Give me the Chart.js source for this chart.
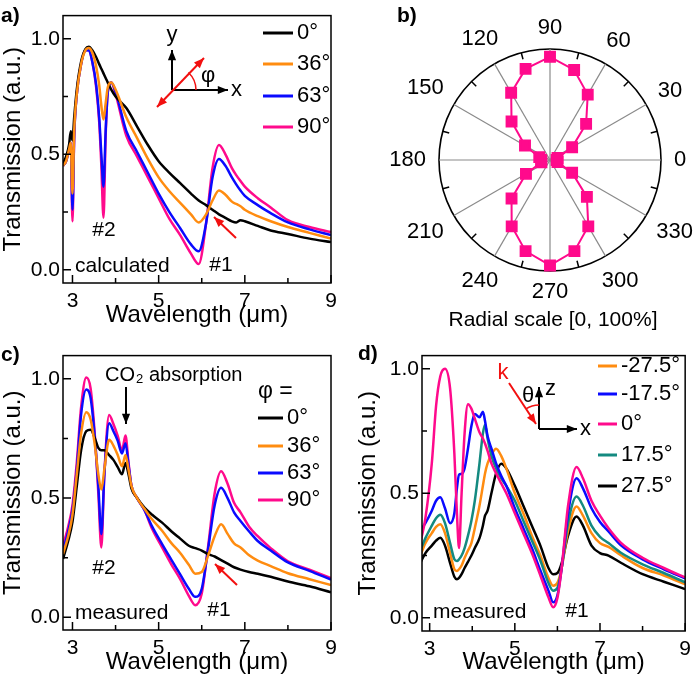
<!DOCTYPE html>
<html>
<head>
<meta charset="utf-8">
<script src="https://cdn.jsdelivr.net/npm/chart.js@4.4.1/dist/chart.umd.min.js"></script>
<style>
  body { margin: 0; background: #fff; }
  #wrap { position: relative; width: 697px; height: 687px; }
  canvas { position: absolute; }
</style>
</head>
<body>
<div id="wrap">
  <canvas id="chartA" width="348" height="340" style="left:0;top:0"></canvas>
  <canvas id="chartB" width="349" height="340" style="left:348px;top:0"></canvas>
  <canvas id="chartC" width="348" height="347" style="left:0;top:340px"></canvas>
  <canvas id="chartD" width="349" height="347" style="left:348px;top:340px"></canvas>
</div>
<script>
// ---- data ----
const xTicks = [3, 4, 5, 6, 7, 8, 9];
const xLabels = [3, 5, 7, 9];
const yTicks = [0, 0.25, 0.5, 0.75, 1.0];
const yLabels = [0, 0.5, 1.0];

// a) calculated
const wlA = [2.78, 2.85, 2.92, 2.96, 3.0, 3.04, 3.1, 3.2, 3.3, 3.38, 3.46, 3.55, 3.62, 3.67, 3.72, 3.77, 3.82, 3.9, 4.0, 4.25,
             4.5, 4.75, 5.0, 5.25, 5.5, 5.75, 5.93, 6.1, 6.25, 6.4, 6.55, 6.7, 6.8, 6.9, 7.0, 7.3, 7.6, 8.0, 8.5, 9.0];
const a0  = [0.46, 0.49, 0.54, 0.60, 0.56, 0.66, 0.78, 0.90, 0.955, 0.965, 0.95, 0.92, 0.89, 0.87, 0.85, 0.83, 0.81, 0.78, 0.75, 0.70,
             0.62, 0.54, 0.47, 0.42, 0.375, 0.33, 0.30, 0.28, 0.26, 0.24, 0.225, 0.21, 0.205, 0.215, 0.21, 0.19, 0.17, 0.155, 0.135, 0.12];
const a36 = [0.45, 0.47, 0.52, 0.55, 0.33, 0.60, 0.76, 0.89, 0.95, 0.96, 0.94, 0.88, 0.80, 0.71, 0.65, 0.72, 0.79, 0.81, 0.78, 0.66,
             0.57, 0.48, 0.40, 0.34, 0.29, 0.24, 0.205, 0.24, 0.30, 0.343, 0.325, 0.295, 0.285, 0.275, 0.26, 0.232, 0.21, 0.185, 0.16, 0.135];
const a63 = [0.45, 0.47, 0.52, 0.55, 0.26, 0.58, 0.76, 0.89, 0.95, 0.95, 0.90, 0.80, 0.66, 0.50, 0.36, 0.60, 0.77, 0.81, 0.77, 0.60,
             0.51, 0.42, 0.33, 0.25, 0.18, 0.11, 0.08, 0.20, 0.40, 0.48, 0.45, 0.40, 0.37, 0.343, 0.32, 0.28, 0.245, 0.205, 0.175, 0.15];
const a90 = [0.45, 0.47, 0.52, 0.55, 0.21, 0.58, 0.76, 0.89, 0.95, 0.95, 0.90, 0.79, 0.64, 0.45, 0.225, 0.58, 0.77, 0.81, 0.76, 0.58,
             0.49, 0.40, 0.31, 0.22, 0.15, 0.07, 0.025, 0.20, 0.44, 0.54, 0.50, 0.44, 0.41, 0.384, 0.36, 0.31, 0.27, 0.215, 0.185, 0.163];

// b) polar, angles clockwise from 90
const polarAngles = [90, 75, 60, 45, 30, 15, 0, 345, 330, 315, 300, 285, 270, 255, 240, 225, 210, 195, 180, 165, 150, 135, 120, 105];
const polarValues = [0.93, 0.84, 0.68, 0.46, 0.23, 0.07, 0.06, 0.07, 0.23, 0.47, 0.69, 0.85, 0.95, 0.85, 0.69, 0.49, 0.25, 0.08, 0.08, 0.10, 0.26, 0.49, 0.70, 0.85];

// c) measured
const wlC = [2.78, 2.9, 3.0, 3.1, 3.2, 3.32, 3.42, 3.52, 3.6, 3.67, 3.74, 3.85, 3.95, 4.05, 4.15, 4.23, 4.3, 4.37, 4.5, 4.67,
             4.85, 5.08, 5.3, 5.5, 5.7, 5.85, 6.0, 6.15, 6.3, 6.45, 6.6, 6.75, 6.9, 7.1, 7.3, 7.6, 8.0, 8.5, 9.0];
const c0  = [0.245, 0.32, 0.40, 0.55, 0.70, 0.78, 0.786, 0.75, 0.71, 0.70, 0.70, 0.68, 0.66, 0.63, 0.60, 0.647, 0.60, 0.54, 0.50, 0.46,
             0.43, 0.397, 0.36, 0.33, 0.30, 0.29, 0.28, 0.265, 0.255, 0.24, 0.225, 0.21, 0.20, 0.19, 0.183, 0.17, 0.15, 0.13, 0.105];
const c36 = [0.265, 0.34, 0.43, 0.60, 0.77, 0.86, 0.83, 0.72, 0.60, 0.536, 0.62, 0.744, 0.72, 0.68, 0.633, 0.68, 0.62, 0.55, 0.50, 0.455,
             0.41, 0.363, 0.31, 0.27, 0.22, 0.183, 0.19, 0.26, 0.34, 0.39, 0.35, 0.31, 0.293, 0.26, 0.238, 0.215, 0.185, 0.16, 0.135];
const c63 = [0.28, 0.36, 0.45, 0.62, 0.85, 0.955, 0.92, 0.75, 0.55, 0.349, 0.60, 0.813, 0.78, 0.74, 0.687, 0.73, 0.64, 0.55, 0.50, 0.45,
             0.38, 0.307, 0.24, 0.18, 0.12, 0.086, 0.12, 0.29, 0.47, 0.543, 0.50, 0.44, 0.404, 0.36, 0.32, 0.28, 0.23, 0.195, 0.158];
const c90 = [0.30, 0.38, 0.47, 0.65, 0.88, 1.005, 0.96, 0.76, 0.52, 0.293, 0.60, 0.848, 0.81, 0.76, 0.70, 0.762, 0.65, 0.55, 0.50, 0.45,
             0.37, 0.293, 0.22, 0.16, 0.09, 0.051, 0.10, 0.30, 0.52, 0.612, 0.56, 0.48, 0.44, 0.38, 0.34, 0.29, 0.235, 0.20, 0.165];

// d) measured, incidence angle
const wlD = [2.78, 2.9, 3.05, 3.15, 3.25, 3.36, 3.48, 3.58, 3.64, 3.69, 3.75, 3.82, 3.9, 3.98, 4.06, 4.17, 4.25, 4.3, 4.36, 4.45,
             4.56, 4.68, 4.8, 5.0, 5.2, 5.4, 5.6, 5.79, 5.9, 6.0, 6.1, 6.25, 6.45, 6.6, 6.8, 7.0, 7.2, 7.5, 8.0, 8.5, 9.0];
const dM275 = [0.25, 0.30, 0.34, 0.365, 0.376, 0.34, 0.26, 0.195, 0.188, 0.195, 0.21, 0.24, 0.27, 0.30, 0.36, 0.45, 0.53, 0.58, 0.62, 0.655,
               0.679, 0.65, 0.60, 0.50, 0.42, 0.33, 0.25, 0.16, 0.129, 0.14, 0.20, 0.35, 0.447, 0.41, 0.34, 0.30, 0.285, 0.25, 0.20, 0.17, 0.135];
const dM175 = [0.35, 0.38, 0.43, 0.47, 0.484, 0.44, 0.38, 0.42, 0.52, 0.575, 0.578, 0.60, 0.68, 0.77, 0.818, 0.805, 0.828, 0.79, 0.73, 0.68,
               0.62, 0.57, 0.53, 0.44, 0.36, 0.28, 0.19, 0.109, 0.062, 0.09, 0.20, 0.42, 0.56, 0.52, 0.44, 0.385, 0.347, 0.29, 0.235, 0.195, 0.158];
const d0    = [0.30, 0.40, 0.62, 0.85, 0.97, 1.0, 0.92, 0.66, 0.42, 0.28, 0.50, 0.74, 0.858, 0.84, 0.80, 0.745, 0.72, 0.70, 0.67, 0.62,
               0.58, 0.54, 0.50, 0.42, 0.34, 0.26, 0.17, 0.082, 0.042, 0.08, 0.20, 0.45, 0.606, 0.56, 0.47, 0.41, 0.36, 0.30, 0.241, 0.20, 0.162];
const d175  = [0.27, 0.32, 0.37, 0.40, 0.414, 0.38, 0.30, 0.235, 0.228, 0.235, 0.25, 0.28, 0.33, 0.39, 0.47, 0.62, 0.74, 0.775, 0.72, 0.65,
               0.60, 0.56, 0.53, 0.47, 0.39, 0.31, 0.23, 0.14, 0.109, 0.12, 0.20, 0.38, 0.487, 0.45, 0.37, 0.325, 0.30, 0.26, 0.215, 0.18, 0.142];
const d275  = [0.22, 0.26, 0.29, 0.31, 0.321, 0.29, 0.22, 0.165, 0.155, 0.16, 0.175, 0.20, 0.225, 0.25, 0.28, 0.32, 0.37, 0.41, 0.43, 0.50,
               0.58, 0.619, 0.60, 0.53, 0.45, 0.37, 0.29, 0.20, 0.175, 0.18, 0.22, 0.33, 0.407, 0.37, 0.29, 0.26, 0.25, 0.22, 0.175, 0.145, 0.115];

const phiLabels = ['0°', '36°', '63°', '90°'];
const thetaLabels = ['-27.5°', '-17.5°', '0°', '17.5°', '27.5°'];

const BLACK = '#000000', ORANGE = '#ff8c10', BLUE = '#0a0aff', PINK = '#ff0a8c', TEAL = '#148a80', RED = '#f21010';
const FONT = "'Liberation Sans', Arial, sans-serif";
Chart.defaults.font.family = FONT;
Chart.defaults.color = '#000';

// ---- helpers ----
function pts(xs, ys) { return xs.map((x, i) => ({ x: x, y: ys[i] })); }

function series(label, xs, ys, color, order) {
  return { label: label, data: pts(xs, ys), borderColor: color, borderWidth: 2.5, pointRadius: 0,
           fill: false, cubicInterpolationMode: 'monotone', order: order };
}

function txt(ctx, s, x, y, size, opt) {
  opt = opt || {};
  ctx.save();
  ctx.font = (opt.bold ? 'bold ' : '') + size + 'px ' + FONT;
  ctx.fillStyle = opt.color || '#000';
  ctx.textAlign = opt.align || 'left';
  ctx.textBaseline = 'middle';
  ctx.fillText(s, x, y);
  ctx.restore();
}

function head(ctx, x1, y1, x2, y2, size) {
  const a = Math.atan2(y2 - y1, x2 - x1);
  ctx.beginPath();
  ctx.moveTo(x2, y2);
  ctx.lineTo(x2 - size * Math.cos(a - 0.38), y2 - size * Math.sin(a - 0.38));
  ctx.lineTo(x2 - size * Math.cos(a + 0.38), y2 - size * Math.sin(a + 0.38));
  ctx.closePath();
  ctx.fill();
}

function arrow(ctx, x1, y1, x2, y2, color, both) {
  ctx.save();
  ctx.strokeStyle = color; ctx.fillStyle = color; ctx.lineWidth = 2;
  ctx.beginPath(); ctx.moveTo(x1, y1); ctx.lineTo(x2, y2); ctx.stroke();
  head(ctx, x1, y1, x2, y2, 11);
  if (both) head(ctx, x2, y2, x1, y1, 11);
  ctx.restore();
}

function legend(ctx, labels, colors, x1, x2, tx, ys, size) {
  labels.forEach((l, i) => {
    ctx.save();
    ctx.strokeStyle = colors[i]; ctx.lineWidth = 3;
    ctx.beginPath(); ctx.moveTo(x1, ys[i]); ctx.lineTo(x2, ys[i]); ctx.stroke();
    ctx.restore();
    txt(ctx, l, tx, ys[i], size);
  });
}

// frame + inward ticks, then panel decorations
function framePlugin(extra) {
  return {
    id: 'frame',
    afterDraw(chart) {
      const ctx = chart.ctx, a = chart.chartArea, x = chart.scales.x, y = chart.scales.y;
      ctx.save();
      ctx.strokeStyle = '#000'; ctx.lineWidth = 1.5;
      ctx.strokeRect(a.left, a.top, a.right - a.left, a.bottom - a.top);
      ctx.beginPath();
      xTicks.forEach(v => {
        const px = x.getPixelForValue(v), len = xLabels.includes(v) ? 8 : 5;
        ctx.moveTo(px, a.bottom); ctx.lineTo(px, a.bottom - len);
      });
      yTicks.forEach(v => {
        const py = y.getPixelForValue(v), len = yLabels.includes(v) ? 8 : 5;
        ctx.moveTo(a.left, py); ctx.lineTo(a.left + len, py);
      });
      ctx.stroke();
      ctx.restore();
      extra(ctx, chart);
    }
  };
}

function lineOptions(xMin, yMin, yMax, yWidth, xHeight, padding) {
  return {
    responsive: false,
    animation: false,
    layout: { padding: padding },
    plugins: { legend: { display: false }, tooltip: { enabled: false } },
    scales: {
      x: {
        type: 'linear', min: xMin, max: 9,
        afterBuildTicks: s => { s.ticks = xTicks.map(v => ({ value: v })); },
        afterFit: s => { s.height = xHeight; },
        grid: { display: false, drawTicks: false },
        border: { display: false },
        ticks: { autoSkip: false, maxRotation: 0, padding: 6, font: { size: 21 },
                 callback: v => xLabels.includes(v) ? String(v) : '' },
        title: { display: true, text: 'Wavelength (\u03bcm)', font: { size: 24, lineHeight: 1 }, padding: { top: 0, bottom: 13 } }
      },
      y: {
        type: 'linear', min: yMin, max: yMax,
        afterBuildTicks: s => { s.ticks = yTicks.map(v => ({ value: v })); },
        afterFit: s => { s.width = yWidth; },
        grid: { display: false, drawTicks: false },
        border: { display: false },
        ticks: { autoSkip: false, padding: 3, font: { size: 21 },
                 callback: v => yLabels.includes(v) ? v.toFixed(1) : '' },
        title: { display: true, text: 'Transmission (a.u.)', font: { size: 24, lineHeight: 1 }, padding: { top: 1, bottom: 0 } }
      }
    }
  };
}

// ---- a) calculated ----
new Chart(document.getElementById('chartA'), {
  type: 'line',
  data: { datasets: [
    series(phiLabels[0], wlA, a0, BLACK, 1),
    series(phiLabels[1], wlA, a36, ORANGE, 0),
    series(phiLabels[2], wlA, a63, BLUE, 2),
    series(phiLabels[3], wlA, a90, PINK, 3)
  ] },
  options: lineOptions(2.78, -0.057, 1.1, 63, 57, { left: 0, top: 4, right: 17, bottom: 0 }),
  plugins: [framePlugin((ctx) => {
    txt(ctx, 'a)', 1, 16, 21, { bold: true });
    legend(ctx, phiLabels, [BLACK, ORANGE, BLUE, PINK], 263, 293, 297, [33, 64, 96, 127], 22);
    // polarisation inset
    arrow(ctx, 172, 90, 172, 50, '#000');
    arrow(ctx, 172, 90, 228, 90, '#000');
    txt(ctx, 'y', 172, 35, 22, { align: 'center' });
    txt(ctx, 'x', 231, 90, 22);
    arrow(ctx, 157, 107, 204, 58, RED, true);
    ctx.save(); ctx.strokeStyle = RED; ctx.lineWidth = 1.5;
    ctx.beginPath(); ctx.arc(172, 90, 24, -0.82, 0); ctx.stroke(); ctx.restore();
    txt(ctx, '\u03c6', 201, 76, 22);
    txt(ctx, '#2', 104, 230, 21, { align: 'center' });
    txt(ctx, '#1', 221, 265, 21, { align: 'center' });
    txt(ctx, 'calculated', 75, 266, 21);
    arrow(ctx, 236, 238, 214, 217, RED);
  })]
});

// ---- b) polar ----
new Chart(document.getElementById('chartB'), {
  type: 'radar',
  data: {
    labels: polarAngles.map(String),
    datasets: [{ data: polarValues, borderColor: PINK, backgroundColor: PINK, borderWidth: 2, fill: false,
                 pointStyle: 'rect', pointRadius: 7, pointBackgroundColor: PINK, pointBorderColor: PINK, tension: 0 }]
  },
  options: {
    responsive: false,
    animation: false,
    layout: { padding: { left: 91, top: 49, right: 36, bottom: 69 } },
    plugins: { legend: { display: false }, tooltip: { enabled: false } },
    scales: {
      r: {
        min: 0, max: 1,
        ticks: { display: false, stepSize: 1 },
        grid: { circular: true, color: '#000', lineWidth: 1.6 },
        angleLines: { lineWidth: 1.2, color: c => (c.index % 2 ? 'rgba(0,0,0,0)' : '#8a8a8a') },
        pointLabels: { display: false }
      }
    }
  },
  plugins: [{
    id: 'polarText',
    afterDraw(chart) {
      const ctx = chart.ctx, s = chart.scales.r;
      ctx.save();
      ctx.font = '22px ' + FONT;
      polarAngles.forEach((ang, i) => {
        if (i % 2) {
          const p1 = s.getPointPositionForValue(i, 1), p2 = s.getPointPositionForValue(i, 0.94);
          ctx.strokeStyle = '#000'; ctx.lineWidth = 1.5;
          ctx.beginPath(); ctx.moveTo(p1.x, p1.y); ctx.lineTo(p2.x, p2.y); ctx.stroke();
        } else {
          const lab = String(ang);
          const w = ctx.measureText(lab).width, h = 16;
          const p = s.getPointPosition(i, s.drawingArea);
          const ext = Math.abs(Math.cos(p.angle)) * w / 2 + Math.abs(Math.sin(p.angle)) * h / 2;
          const q = s.getPointPosition(i, s.drawingArea + 13 + ext);
          txt(ctx, lab, q.x, q.y, 22, { align: 'center' });
        }
      });
      ctx.restore();
      txt(ctx, 'b)', 49, 16, 21, { bold: true });
      txt(ctx, 'Radial scale [0, 100%]', s.xCenter + 3, 320, 21, { align: 'center' });
    }
  }]
});

// ---- c) measured ----
new Chart(document.getElementById('chartC'), {
  type: 'line',
  data: { datasets: [
    series(phiLabels[0], wlC, c0, BLACK, 1),
    series(phiLabels[1], wlC, c36, ORANGE, 0),
    series(phiLabels[2], wlC, c63, BLUE, 2),
    series(phiLabels[3], wlC, c90, PINK, 3)
  ] },
  options: lineOptions(2.78, -0.053, 1.097, 63, 57, { left: 0, top: 13, right: 17, bottom: 0 }),
  plugins: [framePlugin((ctx) => {
    txt(ctx, 'c)', 1, 15, 21, { bold: true });
    txt(ctx, 'CO', 105, 35, 20);
    ctx.save(); ctx.font = '20px ' + FONT; const wCO = ctx.measureText('CO').width; ctx.restore();
    txt(ctx, '2', 105 + wCO + 1, 39, 13);
    txt(ctx, 'absorption', 105 + wCO + 14, 35, 20);
    arrow(ctx, 126, 47, 126, 84, '#000');
    txt(ctx, '\u03c6 =', 258, 52, 23);
    legend(ctx, phiLabels, [BLACK, ORANGE, BLUE, PINK], 258, 283, 287, [78, 106, 133, 160], 22);
    txt(ctx, '#2', 104, 228, 21, { align: 'center' });
    txt(ctx, '#1', 219, 270, 21, { align: 'center' });
    txt(ctx, 'measured', 75, 273, 21);
    arrow(ctx, 237, 245, 215, 224, RED);
  })]
});

// ---- d) measured vs incidence ----
new Chart(document.getElementById('chartD'), {
  type: 'line',
  data: { datasets: [
    series(thetaLabels[0], wlD, dM275, ORANGE, 3),
    series(thetaLabels[1], wlD, dM175, BLUE, 1),
    series(thetaLabels[2], wlD, d0, PINK, 0),
    series(thetaLabels[3], wlD, d175, TEAL, 2),
    series(thetaLabels[4], wlD, d275, BLACK, 4)
  ] },
  options: lineOptions(2.82, -0.053, 1.053, 67, 56, { left: 7, top: 13, right: 8, bottom: 0 }),
  plugins: [framePlugin((ctx) => {
    txt(ctx, 'd)', 10, 14, 21, { bold: true });
    legend(ctx, thetaLabels, [ORANGE, BLUE, PINK, TEAL, BLACK], 250, 269, 273, [26, 54, 84, 115, 146], 22);
    txt(ctx, 'k', 155, 33, 22, { color: RED, align: 'center' });
    arrow(ctx, 161, 43, 188, 84, RED);
    arrow(ctx, 191, 89, 191, 47, '#000');
    arrow(ctx, 191, 89, 229, 89, '#000');
    txt(ctx, 'z', 197, 49, 22);
    txt(ctx, 'x', 232, 89, 22);
    txt(ctx, '\u03b8', 180, 56, 22, { align: 'center' });
    ctx.save(); ctx.strokeStyle = RED; ctx.lineWidth = 1.5;
    ctx.beginPath(); ctx.arc(191, 89, 24, -2.15, -1.5708); ctx.stroke(); ctx.restore();
    txt(ctx, '#1', 229, 271, 21, { align: 'center' });
    txt(ctx, 'measured', 85, 272, 21);
  })]
});
</script>
</body>
</html>
